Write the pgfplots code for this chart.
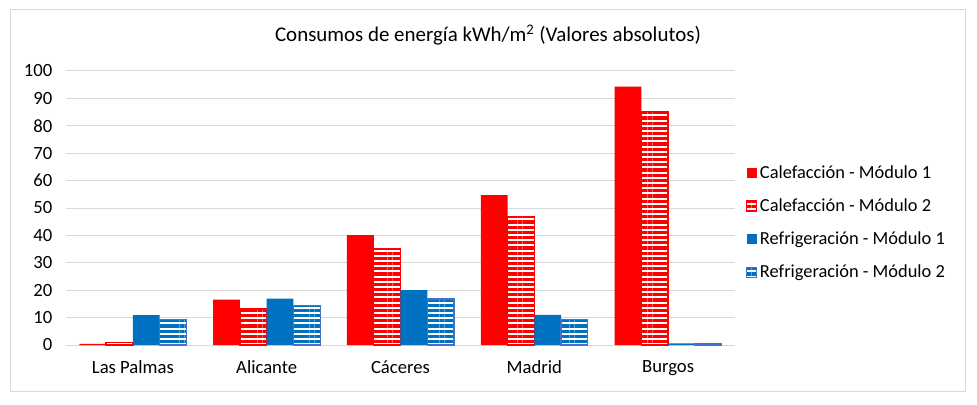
\documentclass[border=0pt]{standalone}
\usepackage{fontspec}
\setmainfont{Carlito}
\usepackage{pgfplots}
\pgfplotsset{compat=1.18}
\usetikzlibrary{patterns.meta}
\definecolor{rojo}{HTML}{FF0000}
\definecolor{azul}{HTML}{0070C0}
\definecolor{azulborde}{HTML}{4472C4}
\definecolor{rejilla}{HTML}{D9D9D9}

\begin{document}
\begin{tikzpicture}
\path (0,0) rectangle (732.75pt,303pt);
\draw[rejilla, line width=0.75pt] (7.5pt,9.75pt) rectangle (723.75pt,295.5pt);
\node[font=\fontsize{15.7}{18}\selectfont] at (366pt,276.5pt) {Consumos de energía kWh/m\textsuperscript{2} (Valores absolutos)};
\begin{axis}[
  at={(49.5pt,44.25pt)}, anchor=south west,
  scale only axis, width=501.75pt, height=205.5pt,
  xmin=-0.5, xmax=4.5, ymin=0, ymax=100,
  ytick={0,10,...,100},
  xtick={0,...,4},
  xticklabels={Las Palmas,Alicante,Cáceres,Madrid,Burgos},
  major tick length=0pt,
  axis line style={draw=none},
  ymajorgrids, grid style={rejilla, line width=0.75pt},
  tick label style={font=\fontsize{14}{16}\selectfont},
  yticklabel style={xshift=-6.75pt},
  xticklabel style={yshift=-8pt},
  /pgf/number format/assume math mode=true,
  ybar, bar width=20.07pt,
  legend style={at={(1.016,0.665)}, anchor=north west, draw=none, fill=none,
    font=\fontsize{13.8}{16}\selectfont, row sep=9.7pt, inner sep=0pt,
    cells={anchor=west}},
  legend cell align=left,
  legend image code/.code={\path[#1] (0pt,-3.75pt) rectangle (7.5pt,3.75pt);},
]
\addplot[fill=rojo, draw=none, bar shift=-30.1pt]
  coordinates {(0,0.4) (1,16.6) (2,40.1) (3,54.7) (4,94.3)};
\addlegendentry{Calefacción - Módulo 1}
\addplot[fill=white, draw=rojo, line width=1pt, bar shift=-10.03pt,
  postaction={pattern={Lines[angle=0,distance=3.9pt,line width=2.4pt]}, pattern color=rojo}]
  coordinates {(0,0.8) (1,13.1) (2,35) (3,47) (4,85.3)};
\addlegendentry{Calefacción - Módulo 2}
\addplot[fill=azul, draw=none, bar shift=10.03pt]
  coordinates {(0,10.9) (1,16.9) (2,20) (3,11) (4,0.6)};
\addlegendentry{Refrigeración - Módulo 1}
\addplot[fill=white, draw=azulborde, line width=1pt, bar shift=30.1pt,
  postaction={pattern={Lines[angle=0,distance=3.9pt,line width=2.4pt]}, pattern color=azul}]
  coordinates {(0,9.4) (1,14.3) (2,16.8) (3,9.4) (4,0.6)};
\addlegendentry{Refrigeración - Módulo 2}
\end{axis}
\end{tikzpicture}
\end{document}
